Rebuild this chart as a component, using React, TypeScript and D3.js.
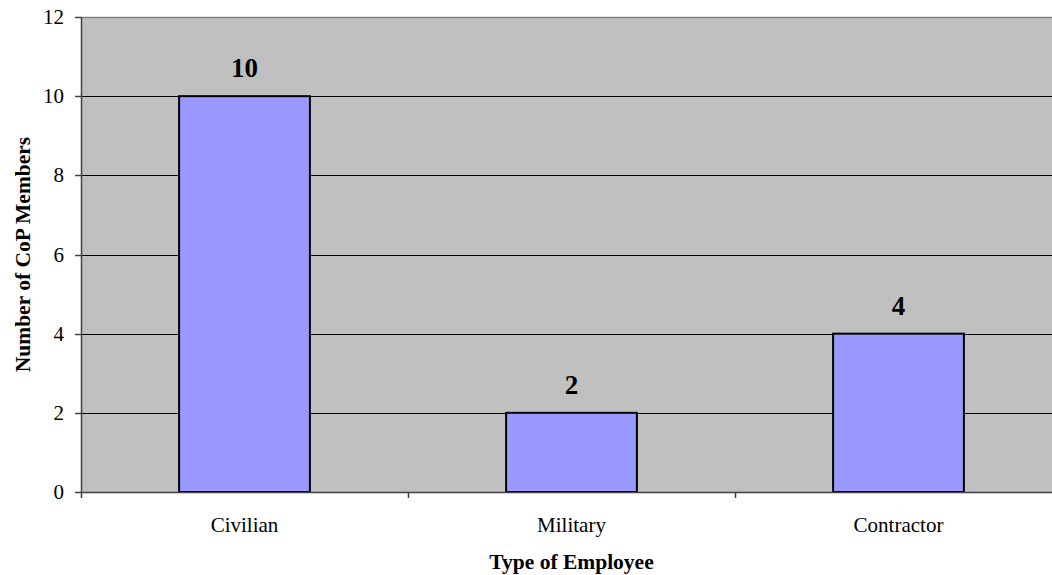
import React from "react";
import * as d3 from "d3";

const categories = ["Civilian", "Military", "Contractor"];
const values = [10, 2, 4];
const yTicks = [0, 2, 4, 6, 8, 10, 12];
const xTitle = "Type of Employee";
const yTitle = "Number of CoP Members";

export default function App() {
  const W = 1052, H = 575;
  const left = 81, top = 17, bottom = 492, right = 1062;
  const x = d3.scaleBand<string>().domain(categories).range([left, right]).paddingInner(0.6).paddingOuter(0.3);
  const band = d3.scaleBand<string>().domain(categories).range([left, right]);
  const y = d3.scaleLinear().domain([0, 12]).range([bottom, top]);
  const font = "'Liberation Serif', 'Times New Roman', serif";
  return (
    <svg width={W} height={H} style={{ position: "absolute", left: 0, top: 0 }} fontFamily={font}>
      <rect x={0} y={0} width={W} height={H} fill="#fff" />
      <rect x={left} y={top} width={right - left} height={bottom - top} fill="#c0c0c0" />
      <line x1={left} x2={right} y1={top + 0.5} y2={top + 0.5} stroke="#808080" strokeWidth={1.5} />
      {yTicks.filter((t) => t > 0 && t < 12).map((t) => (
        <line key={t} x1={left} x2={right} y1={Math.round(y(t)) + 0.5} y2={Math.round(y(t)) + 0.5} stroke="#000" strokeWidth={1} />
      ))}
      {categories.map((c, i) => {
        const bx = x(c)!;
        const by = y(values[i]);
        return (
          <g key={c}>
            <rect x={bx} y={by} width={x.bandwidth()} height={bottom - by} fill="#9999ff" stroke="#000" strokeWidth={2} />
            <text x={bx + x.bandwidth() / 2} y={by - 19} textAnchor="middle" fontWeight="bold" fontSize={27}>{values[i]}</text>
            <text x={band(c)! + band.bandwidth() / 2} y={532} textAnchor="middle" fontSize={21}>{c}</text>
          </g>
        );
      })}
      <line x1={left} x2={right} y1={bottom + 0.5} y2={bottom + 0.5} stroke="#404040" strokeWidth={1.5} />
      <line x1={left + 0.5} x2={left + 0.5} y1={top} y2={bottom + 6} stroke="#404040" strokeWidth={1.5} />
      {yTicks.map((t) => (
        <g key={t}>
          <line x1={left - 6} x2={left} y1={Math.round(y(t)) + 0.5} y2={Math.round(y(t)) + 0.5} stroke="#404040" strokeWidth={1.5} />
          <text x={64} y={y(t) + 7} textAnchor="end" fontSize={21}>{t}</text>
        </g>
      ))}
      {categories.slice(1).map((c) => (
        <line key={c} x1={band(c)! + 0.5} x2={band(c)! + 0.5} y1={bottom} y2={bottom + 6} stroke="#404040" strokeWidth={1.5} />
      ))}
      <text x={(left + right) / 2} y={569} textAnchor="middle" fontWeight="bold" fontSize={21.5}>{xTitle}</text>
      <text transform={`translate(30, ${(top + bottom) / 2}) rotate(-90)`} textAnchor="middle" fontWeight="bold" fontSize={21.5}>{yTitle}</text>
    </svg>
  );
}
